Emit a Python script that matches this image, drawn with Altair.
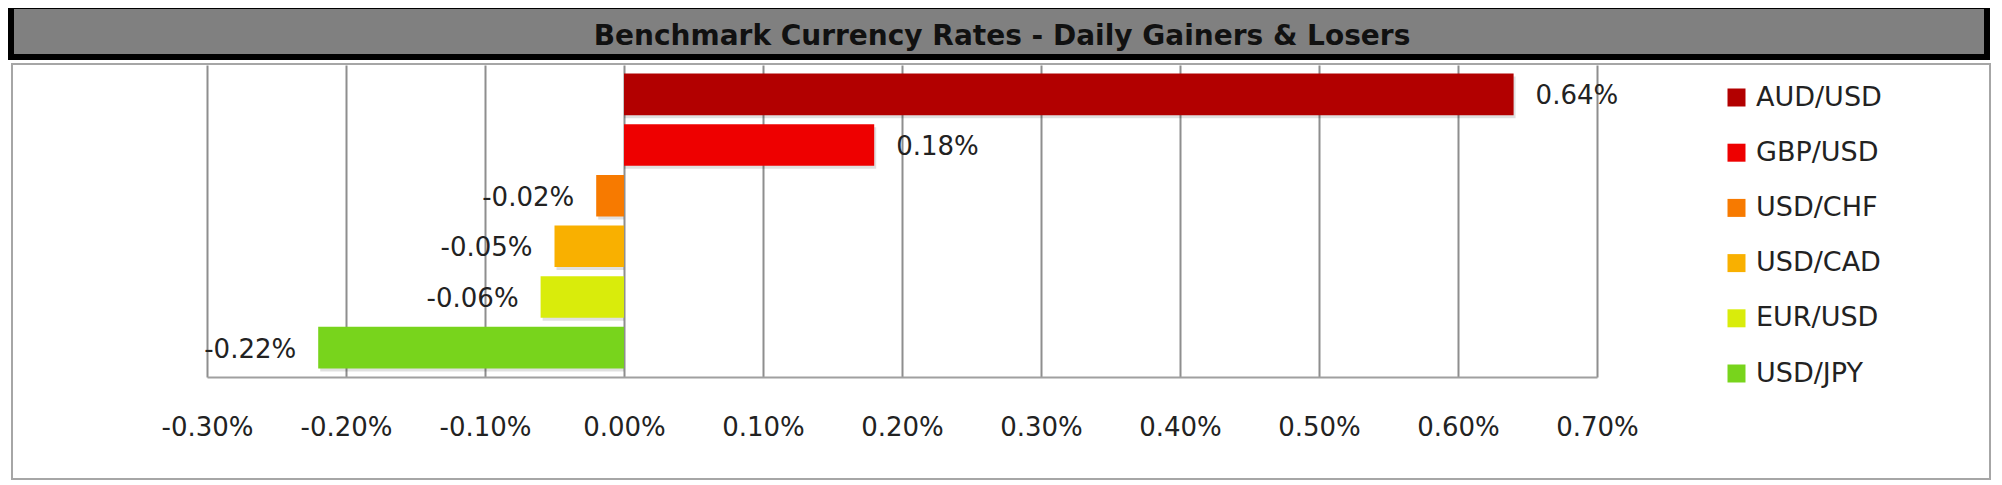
import altair as alt
import pandas as pd

TITLE = "Benchmark Currency Rates - Daily Gainers & Losers"
pairs = ["AUD/USD", "GBP/USD", "USD/CHF", "USD/CAD", "EUR/USD", "USD/JPY"]
changes = [0.64, 0.18, -0.02, -0.05, -0.06, -0.22]
colors = ["#B20000", "#EE0000", "#F77A00", "#F9B000", "#D9EC0B", "#78D41C"]
tick_values = [-0.3, -0.2, -0.1, 0.0, 0.1, 0.2, 0.3, 0.4, 0.5, 0.6, 0.7]

df = pd.DataFrame({"pair": pairs, "change": changes})
title_df = pd.DataFrame({"title": [TITLE]})

W, H = 1390, 312
FONT = "DejaVu Sans"

x_enc = alt.X(
    "change:Q",
    stack=None,
    scale=alt.Scale(domain=[-0.3, 0.7], nice=False, zero=False),
    axis=alt.Axis(
        values=tick_values,
        grid=True,
        gridColor="#8E8E8E",
        gridWidth=2,
        domainColor="#A0A0A0",
        domainWidth=2,
        ticks=False,
        labelFont=FONT,
        labelFontSize=26,
        labelColor="#222222",
        labelPadding=37,
        labelFlush=False,
        labelOverlap=False,
        labelBound=False,
        title=None,
        labelExpr="(datum.value < -0.0000001 ? '-' : '') + format(abs(datum.value), '.2f') + '%'",
    ),
)
y_enc = alt.Y(
    "pair:N",
    sort=pairs,
    axis=None,
    scale=alt.Scale(domain=pairs, paddingInner=0.18, paddingOuter=0.17),
)

frame = alt.Chart(title_df).mark_rect(
    fill="#ffffff", fillOpacity=0, stroke="#A6A6A6", strokeWidth=2
).encode(
    x=alt.value(-195), x2=alt.value(1783), y=alt.value(-1), y2=alt.value(414)
)

band = alt.Chart(title_df).mark_rect(
    fill="#808080", stroke="#000000", strokeWidth=6
).encode(
    x=alt.value(-196), x2=alt.value(1780), y=alt.value(-59), y2=alt.value(-8)
)

title_text = alt.Chart(title_df).mark_text(
    font=FONT, fontWeight="bold", fontSize=28, color="#111111",
    align="center", baseline="alphabetic"
).encode(x=alt.value(795), y=alt.value(-20), text="title:N")

shadow = alt.Chart(df).mark_bar(
    color="#000000", opacity=0.12, xOffset=2, yOffset=3
).encode(x=x_enc, x2=alt.datum(0), y=y_enc)

bars = alt.Chart(df).mark_bar(opacity=1).encode(
    x=x_enc,
    x2=alt.datum(0),
    y=y_enc,
    color=alt.Color(
        "pair:N",
        scale=alt.Scale(domain=pairs, range=colors),
        legend=alt.Legend(
            orient="none", legendX=1516, legendY=19, title=None,
            symbolType="square", symbolSize=324, symbolStrokeWidth=0,
            symbolOpacity=1, labelFont=FONT, labelFontSize=27,
            labelColor="#222222", labelOffset=6, rowPadding=27.2,
            labelLimit=400, padding=0,
        ),
    ),
)

label_expr = "(datum.change < 0 ? '-' : '') + format(abs(datum.change), '.2f') + '%'"

pos_labels = alt.Chart(df).transform_filter("datum.change >= 0").transform_calculate(
    lbl=label_expr
).mark_text(
    font=FONT, fontSize=26, color="#222222", align="left", baseline="middle", dx=22, dy=2
).encode(x=x_enc, y=y_enc, text="lbl:N")

neg_labels = alt.Chart(df).transform_filter("datum.change < 0").transform_calculate(
    lbl=label_expr
).mark_text(
    font=FONT, fontSize=26, color="#222222", align="right", baseline="middle", dx=-22, dy=2
).encode(x=x_enc, y=y_enc, text="lbl:N")

chart = alt.layer(
    frame, band, title_text, shadow, bars, pos_labels, neg_labels
).properties(
    width=W,
    height=H,
    padding={"left": 199, "top": 57, "right": 396, "bottom": 103},
    autosize=alt.AutoSizeParams(type="none"),
).configure_view(stroke=None)

chart.save("out.html", embed_options={"renderer": "svg", "actions": False})
